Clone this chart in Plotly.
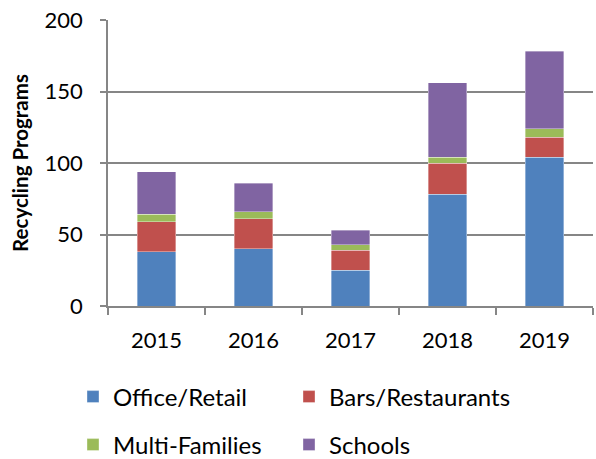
import plotly.graph_objects as go

years = ["2015", "2016", "2017", "2018", "2019"]
office_retail = [38, 40, 25, 78, 104]
bars_restaurants = [21, 21, 14, 22, 14]
multi_families = [5, 5, 4, 4, 6]
schools = [30, 20, 10, 52, 54]

W, H = 596, 459
# legend slots: (legend id, left x px, center y px)
series = [
    ("Office/Retail", office_retail, "#4F81BD", "legend", 73, 397),
    ("Bars/Restaurants", bars_restaurants, "#C0504D", "legend2", 289, 397),
    ("Multi-Families", multi_families, "#9BBB59", "legend3", 73, 445),
    ("Schools", schools, "#8064A2", "legend4", 289, 445),
]

FONT = "Lato, Open Sans, sans-serif"

fig = go.Figure()
legends = {}
for name, vals, color, lg, lx, ly in series:
    fig.add_trace(go.Bar(
        x=years, y=vals, name=name, legend=lg,
        marker=dict(color=color, line=dict(width=0.6, color="rgba(255,255,255,0.6)")),
        width=0.4,
    ))
    legends[lg] = dict(orientation="h", xref="container", yref="container",
                       x=lx / W, y=1 - ly / H, xanchor="left", yanchor="middle",
                       font=dict(family=FONT, size=24, color="#000"),
                       itemclick=False, bgcolor="rgba(0,0,0,0)")

fig.update_layout(
    barmode="stack",
    width=W, height=H,
    margin=dict(l=108, r=3, t=20, b=153, autoexpand=False),
    plot_bgcolor="white", paper_bgcolor="white",
    font=dict(family=FONT, size=22, color="#000000"),
    showlegend=True,
    **legends,
)

fig.update_xaxes(
    showline=True, linecolor="#868686", linewidth=1.5,
    ticks="outside", tickson="boundaries", ticklen=7, tickcolor="#868686", tickwidth=1.5,
    tickfont=dict(family=FONT, size=22, color="#000"),
    showgrid=False, ticklabelstandoff=14,
)
fig.update_yaxes(
    range=[0, 200], tickvals=[0, 50, 100, 150, 200],
    showline=True, linecolor="#868686", linewidth=1.5,
    ticks="outside", ticklen=6, tickcolor="#868686", tickwidth=1.5,
    showgrid=True, gridcolor="#868686", gridwidth=1.5,
    zeroline=False, ticklabelstandoff=13,
    tickfont=dict(family=FONT, size=22, color="#000"),
    title=dict(text="<b>Recycling Programs</b>", font=dict(family=FONT, size=20.5, color="#000"), standoff=10),
)

fig.write_html("out.html", config={"responsive": False, "displayModeBar": False},
               default_width="596px", default_height="459px",
               post_script="document.body.style.margin='0';document.body.style.overflow='hidden';")
